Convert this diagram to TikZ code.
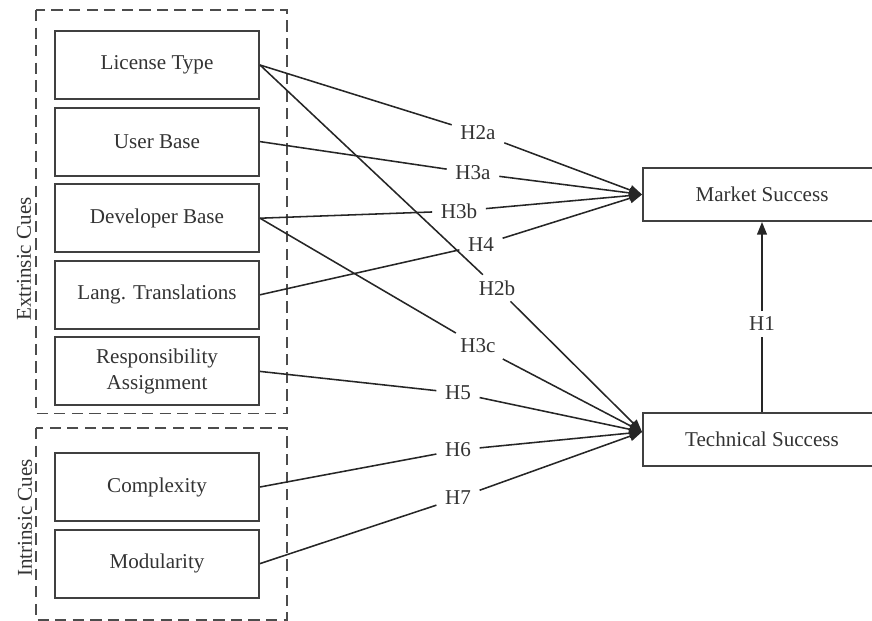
\documentclass[tikz,border=0pt]{standalone}
\usepackage{fontspec}
\setmainfont{Liberation Serif}
\usetikzlibrary{arrows.meta,positioning,calc}
\tikzstyle{cue} = [rectangle, draw=black!75, line width=1.4pt, minimum width=5.1cm, minimum height=1.7cm, align=center]
\tikzstyle{outcome} = [rectangle, draw=black!75, line width=1.4pt, minimum width=5.95cm, minimum height=1.325cm]
\tikzstyle{hyp} = [fill=white, inner xsep=6pt, inner ysep=4pt]
\tikzstyle{group} = [draw=black!70, line width=1.2pt, dash pattern=on 8pt off 4.5pt]
\tikzstyle{link} = [draw=black!85, line width=1.1pt]

\begin{document}
\begin{tikzpicture}[node distance=1.915cm, >={Triangle[length=9pt,width=7pt]}, font=\fontsize{15}{18}\selectfont, text=black!80]
    \useasboundingbox (0,0) rectangle (21.8,-15.5);
    % extrinsic cues
    \node[cue] (license) at (3.925,-1.625) {License Type};
    \node[cue, below of=license] (userbase) {User Base};
    \node[cue, below of=userbase] (devbase) {Developer Base};
    \node[cue, below of=devbase] (translations) {Lang. Translations};
    \node[cue, below of=translations] (responsibility) {Responsibility\\Assignment};
    
    % intrinsic cues
    \node[cue, below of=responsibility, node distance=2.89cm] (complexity) {Complexity};
    \node[cue, below of=complexity] (modularity) {Modularity};
    
    % dashed groups
    \draw[group] ($(license.north west)+(-0.45,0.5)$) rectangle ($(responsibility.south east)+(0.68,-0.18)$);
    \draw[group] ($(complexity.north west)+(-0.45,0.6)$) rectangle ($(modularity.south east)+(0.68,-0.53)$);
    \node[rotate=90] (extlabel) at (0.6,-6.475) {Extrinsic Cues};
    \node[rotate=90] (intlabel) at (0.625,-12.95) {Intrinsic Cues};
    
    % outcomes
    \node[outcome] (market) at (19.05,-4.8625) {Market Success};
    \node[outcome] (technical) at (19.05,-10.9875) {Technical Success};
    \coordinate (marketin) at (market.west);
    \coordinate (techin) at ($(technical.west)+(0,0.19)$);
    
    % hypotheses
    \node[hyp] (h2a) at (11.95,-3.325) {H2a};
    \node[hyp] (h3a) at (11.825,-4.325) {H3a};
    \node[hyp] (h3b) at (11.475,-5.275) {H3b};
    \node[hyp] (h4) at (12.025,-6.125) {H4};
    \node[hyp] (h2b) at (12.425,-7.2) {H2b};
    \node[hyp] (h3c) at (11.95,-8.65) {H3c};
    \node[hyp] (h5) at (11.45,-9.825) {H5};
    \node[hyp] (h6) at (11.45,-11.25) {H6};
    \node[hyp] (h7) at (11.45,-12.45) {H7};
    \node[hyp] (h1) at (19.05,-8.1) {H1};
    
    % connections
    \draw[link,->] (license.east) -- (h2a) -- (marketin);
    \draw[link,->] (userbase.east) -- (h3a) -- (marketin);
    \draw[link,->] (devbase.east) -- (h3b) -- (marketin);
    \draw[link,->] (translations.east) -- (h4) -- (marketin);
    \draw[link,->] (license.east) -- (h2b) -- (techin);
    \draw[link,->] (devbase.east) -- (h3c) -- (techin);
    \draw[link,->] (responsibility.east) -- (h5) -- (techin);
    \draw[link,->] (complexity.east) -- (h6) -- (techin);
    \draw[link,->] (modularity.east) -- (h7) -- (techin);
    \draw[link,->] (technical.north) -- (h1) -- (market.south);
\end{tikzpicture}
\end{document}
